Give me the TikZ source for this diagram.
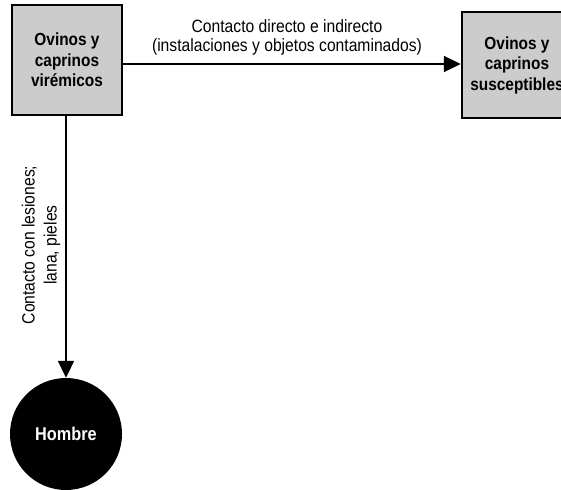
\documentclass[tikz,border=0pt]{standalone}
\usepackage{fontspec}
\setmainfont{Liberation Sans}
\newfontfamily\narrowsans[FakeStretch=0.88]{Liberation Sans}
\usetikzlibrary{arrows.meta}
\begin{document}
\begin{tikzpicture}[x=1pt,y=-1pt,
  boxnode/.style={draw=black, line width=2.5pt, fill=black!20, minimum width=110pt,
    minimum height=110pt, inner sep=0pt, align=center,
    font=\narrowsans\fontsize{17.5}{20.5}\selectfont\bfseries},
  conn/.style={line width=2pt, -{Triangle[length=17pt,width=16pt]}},
  lbl/.style={font=\narrowsans\fontsize{17.8}{19}\selectfont, align=center, inner sep=0pt}]
\useasboundingbox (0,0) rectangle (561,489);
\clip (0,0) rectangle (561,489);
\node[boxnode] (vir) at (67,60) {Ovinos y\\caprinos\\virémicos};
\node[boxnode, minimum height=106pt] (sus) at (517,65) {Ovinos y\\caprinos\\susceptibles};
\node[circle, fill=black, minimum size=112pt, inner sep=0pt, text=white,
  font=\narrowsans\fontsize{18.5}{20}\selectfont\bfseries] (hom) at (66,434) {Hombre};
\coordinate (h) at (0,64);
\draw[conn] (vir.east |- h) -- (sus.west |- h);
\draw[conn] (hom.north |- vir.south) -- (hom.north);
\node[lbl] (t1) at (287,37) {Contacto directo e indirecto\\(instalaciones y objetos contaminados)};
\node[lbl, rotate=90, font=\narrowsans\fontsize{17.8}{22}\selectfont] (t2) at (41,245) {Contacto con lesiones;\\lana, pieles};
\end{tikzpicture}
\end{document}
